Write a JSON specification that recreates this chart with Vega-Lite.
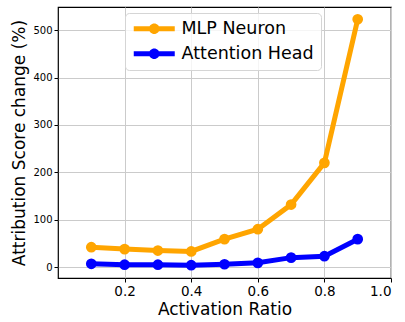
{
  "$schema": "https://vega.github.io/schema/vega-lite/v6.json",
  "width": 333,
  "height": 271,
  "autosize": "none",
  "padding": {"left": 58, "top": 7, "right": 14, "bottom": 44},
  "background": "white",
  "config": {
    "font": "DejaVu Sans",
    "view": {"stroke": "black", "strokeWidth": 1.2},
    "axis": {
      "domain": false,
      "gridColor": "#cbcbcb",
      "gridWidth": 1,
      "tickColor": "black",
      "tickSize": 4,
      "labelColor": "black",
      "titleColor": "black",
      "titleFontWeight": "normal",
      "labelPadding": 2
    }
  },
  "data": {
    "values": [
      {"ratio": 0.1, "type": "MLP Neuron", "change": 42},
      {"ratio": 0.2, "type": "MLP Neuron", "change": 38},
      {"ratio": 0.3, "type": "MLP Neuron", "change": 35},
      {"ratio": 0.4, "type": "MLP Neuron", "change": 33},
      {"ratio": 0.5, "type": "MLP Neuron", "change": 59},
      {"ratio": 0.6, "type": "MLP Neuron", "change": 80},
      {"ratio": 0.7, "type": "MLP Neuron", "change": 132},
      {"ratio": 0.8, "type": "MLP Neuron", "change": 220},
      {"ratio": 0.9, "type": "MLP Neuron", "change": 523},
      {"ratio": 0.1, "type": "Attention Head", "change": 7},
      {"ratio": 0.2, "type": "Attention Head", "change": 5},
      {"ratio": 0.3, "type": "Attention Head", "change": 5},
      {"ratio": 0.4, "type": "Attention Head", "change": 4},
      {"ratio": 0.5, "type": "Attention Head", "change": 6},
      {"ratio": 0.6, "type": "Attention Head", "change": 9},
      {"ratio": 0.7, "type": "Attention Head", "change": 20},
      {"ratio": 0.8, "type": "Attention Head", "change": 23},
      {"ratio": 0.9, "type": "Attention Head", "change": 59}
    ]
  },
  "mark": {
    "type": "line",
    "strokeWidth": 5,
    "point": {"size": 115, "filled": true, "opacity": 1}
  },
  "encoding": {
    "x": {
      "field": "ratio",
      "type": "quantitative",
      "scale": {"domain": [0, 1], "nice": false, "zero": false},
      "axis": {
        "values": [0.2, 0.4, 0.6, 0.8, 1.0],
        "format": ".1f",
        "labelFontSize": 13.5,
        "title": "Activation Ratio",
        "titleFontSize": 17,
        "titlePadding": 4
      }
    },
    "y": {
      "field": "change",
      "type": "quantitative",
      "scale": {"domain": [-23, 549], "nice": false, "zero": false},
      "axis": {
        "values": [0, 100, 200, 300, 400, 500],
        "labelFontSize": 10,
        "title": "Attribution Score change (%)",
        "titleFontSize": 17,
        "titlePadding": 4
      }
    },
    "color": {
      "field": "type",
      "type": "nominal",
      "sort": ["MLP Neuron", "Attention Head"],
      "scale": {"domain": ["MLP Neuron", "Attention Head"], "range": ["orange", "blue"]},
      "legend": {
        "title": null,
        "orient": "none",
        "legendX": 67,
        "legendY": 6,
        "padding": 7,
        "labelFontSize": 17.5,
        "labelColor": "black",
        "labelOffset": 18.5,
        "symbolOffset": 13.5,
        "rowPadding": 6,
        "symbolType": "M-4.1,-0.5 H4.1 V0.5 H-4.1 Z M-1.05,0 A1.05,1.05 0 1,1 1.05,0 A1.05,1.05 0 1,1 -1.05,0 Z",
        "symbolSize": 100,
        "symbolStrokeWidth": 0,
        "fillColor": "rgba(255,255,255,0.8)",
        "strokeColor": "#d5d5d5",
        "cornerRadius": 4,
        "encode": {
          "symbols": {
            "update": {
              "fill": {"scale": "color", "field": "value"},
              "strokeWidth": {"value": 0},
              "opacity": {"value": 1}
            }
          }
        }
      }
    }
  }
}
